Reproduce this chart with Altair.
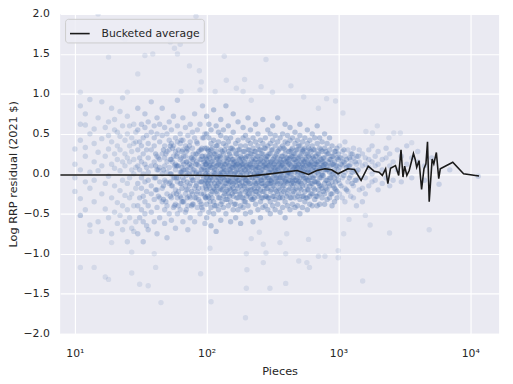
import altair as alt
import pandas as pd

# ---- scatter data: piece counts and their log-RRP residuals, grouped by band ----
band1_pieces = [10, 11, 12, 13, 14, 15, 16, 17, 18, 19, 20, 21, 22, 23, 24, 25, 26, 27, 28, 29]
band1_resid = [
    [0.31, -0.05, 0.12, -0.22],
    [0.62, 0.05, -0.31, 0.42, 0.85, -0.52],
    [0.61, 0.22, -0.1, 0.75, -0.45, 0.33],
    [0.02, 0.5, -0.18, 0.93, -0.64],
    [0.56, -0.35, 0.15, 0.38, -0.08],
    [0.27, -0.6, 0.7, 0.04],
    [0.44, -0.25, 0.1, 0.9, -0.72],
    [-0.12, 0.58, 0.22, -0.44],
    [0.31, -0.03, 0.65, -0.55, 0.48],
    [0.12, -0.3, 0.82, 0.4, -0.75],
    [0.55, -0.15, 0.25, -0.48, 0.07, 0.68],
    [0.52, 0.18, -0.36, -0.62, 0.35],
    [0.04, 0.47, -0.21, 0.78, -0.52, 0.3],
    [-0.4, 0.15, 0.6, -0.08, 0.95, -0.7],
    [0.25, -0.27, 0.42, -0.6, 0.1],
    [0.5, -0.12, 0.2, -0.45, 0.72, -0.85],
    [0.35, -0.05, -0.55, 0.15, 0.6, -0.3],
    [-0.68, 0.28, 0.05, -0.25, 0.45],
    [0.18, -0.4, 0.62, -0.72, 0.38, 0.0],
    [0.08, -0.18, 0.4, -0.6, 0.52],
]

band2_pieces = [30, 31, 32, 33, 34, 35, 36, 38, 40, 42, 44, 46, 48, 50, 52, 54, 56, 58,
                60, 63, 66, 69, 72, 75, 78, 81, 85, 89, 93, 97]
band2_resid = [
    [0.3, -0.12, 0.55, -0.4, 0.1, -0.75, 0.82],
    [0.05, -0.3, 0.4, -0.55, 0.2],
    [-0.18, 0.62, 0.15, -0.45, 0.35, -0.05],
    [0.45, -0.6, 0.0, 0.25, -0.28, -0.85],
    [0.12, -0.1, 0.58, -0.35, 0.75, -0.5],
    [-0.22, 0.3, 0.08, -0.65, 0.48],
    [0.2, -0.4, 0.65, -0.08, 0.38, -0.7, 0.02],
    [0.52, -0.15, 0.1, -0.48, 0.3, -0.25, 0.9],
    [-0.05, 0.35, -0.32, 0.6, 0.15, -0.6, 0.45],
    [0.22, -0.2, 0.5, -0.42, 0.05, 0.7, -0.75],
    [0.4, -0.1, 0.18, -0.55, 0.62, -0.3, 0.08],
    [-0.35, 0.25, 0.0, 0.48, -0.18, 0.82],
    [0.1, -0.45, 0.35, -0.08, 0.58, -0.62, 0.2],
    [0.28, -0.25, 0.5, 0.02, -0.4, 0.15, -0.8],
    [-0.12, 0.42, 0.08, -0.5, 0.3, 0.65],
    [0.18, -0.3, 0.0, 0.55, -0.15, -0.58, 0.38],
    [0.35, -0.05, -0.42, 0.22, 0.72, -0.25],
    [-0.2, 0.12, 0.45, -0.38, 0.28, -0.68, 0.05],
    [0.25, -0.1, 0.6, -0.3, 0.1, -0.5, 0.4, 0.92],
    [0.02, -0.28, 0.38, -0.12, 0.5, -0.45, 0.18],
    [0.15, -0.35, 0.3, -0.05, 0.7, -0.6, 0.42],
    [-0.15, 0.22, 0.05, -0.48, 0.35, 0.58, -0.25],
    [0.3, -0.2, 0.1, -0.4, 0.48, 0.0, -0.7],
    [0.08, -0.12, 0.4, -0.3, 0.2, -0.55, 0.62],
    [-0.25, 0.15, 0.32, -0.08, 0.52, -0.38, 0.02],
    [0.2, -0.3, 0.05, 0.45, -0.18, -0.6, 0.75],
    [0.12, -0.05, 0.38, -0.42, 0.25, -0.22, 0.55],
    [-0.1, 0.3, 0.0, -0.35, 0.18, 0.62, -0.5],
    [0.22, -0.18, 0.45, -0.02, -0.45, 0.1, 0.85],
    [0.05, -0.28, 0.32, 0.15, -0.12, -0.62, 0.5],
]

# extra sets that thicken the cloud between 40 and 100 pieces
band2b_pieces = [43, 49, 55, 57, 61, 64, 67, 70, 74, 79, 84, 87, 92, 95, 99]
band2b_resid = [
    [0.05, -0.28, 0.2],
    [-0.1, 0.25, -0.35],
    [0.15, -0.15, 0.32],
    [-0.05, 0.1, -0.4],
    [0.1, -0.22, 0.3, -0.05, -0.4],
    [-0.12, 0.2, 0.02, -0.3, 0.42],
    [0.22, -0.08, -0.35, 0.12, 0.05],
    [-0.02, 0.28, -0.2, 0.15, -0.45],
    [0.12, -0.15, 0.35, -0.28, 0.0],
    [-0.08, 0.18, -0.38, 0.25, 0.05],
    [0.15, -0.25, 0.02, 0.4, -0.12],
    [-0.18, 0.1, 0.28, -0.32, 0.0],
    [0.05, -0.1, 0.22, -0.42, 0.32],
    [-0.05, 0.15, -0.25, 0.08, 0.45],
    [0.2, -0.18, 0.0, -0.3, 0.12],
]

band3_pieces = [100, 104, 108, 113, 118, 123, 128, 134, 140, 146, 152, 159, 166, 173,
                181, 189, 197, 206, 215, 225, 235, 245, 256, 267, 279, 291]
band3_resid = [
    [0.05, -0.2, 0.32, -0.1, 0.18, -0.38, 0.5, -0.05, 0.12, -0.55, 0.72],
    [-0.15, 0.1, 0.28, -0.3, 0.0, 0.45, -0.08, -0.48, 0.22, 0.62],
    [0.15, -0.05, -0.25, 0.38, 0.08, -0.42, 0.3, -0.12, 0.55, -0.65],
    [0.02, 0.25, -0.18, 0.12, -0.35, 0.42, -0.02, 0.2, -0.5, 0.8],
    [-0.08, 0.18, 0.35, -0.22, 0.05, -0.4, 0.28, 0.1, -0.15, 0.6, -0.72],
    [0.12, -0.12, 0.22, -0.3, 0.4, 0.0, -0.45, 0.15, -0.05, 0.52],
    [-0.02, 0.3, -0.2, 0.1, -0.38, 0.2, 0.48, -0.1, 0.05, -0.58, 0.68],
    [0.08, -0.15, 0.25, -0.05, 0.38, -0.28, 0.15, -0.42, 0.02, 0.55],
    [-0.12, 0.2, 0.05, -0.32, 0.35, -0.02, 0.12, -0.22, 0.45, -0.5, 0.85],
    [0.1, -0.08, 0.28, -0.25, 0.0, 0.4, -0.4, 0.18, -0.12, 0.6],
    [-0.05, 0.15, -0.2, 0.32, 0.05, -0.35, 0.22, -0.1, 0.45, -0.6, 0.02],
    [0.18, -0.12, 0.08, -0.28, 0.3, 0.0, -0.45, 0.12, -0.18, 0.52, 0.75],
    [-0.1, 0.25, 0.02, -0.22, 0.15, -0.38, 0.38, -0.05, 0.1, -0.55],
    [0.05, -0.18, 0.3, -0.08, 0.2, -0.3, 0.0, 0.42, -0.45, 0.12, 0.65],
    [-0.15, 0.1, 0.22, -0.25, 0.05, 0.35, -0.4, -0.02, 0.15, -0.62],
    [0.12, -0.05, -0.3, 0.28, 0.0, -0.15, 0.45, 0.18, -0.42, 0.08, 0.58],
    [-0.08, 0.2, 0.05, -0.22, 0.35, -0.35, 0.1, -0.12, 0.48, -0.5],
    [0.02, -0.25, 0.15, 0.3, -0.1, 0.08, -0.4, 0.22, -0.18, 0.42, 0.7],
    [-0.12, 0.12, -0.3, 0.25, 0.0, -0.2, 0.38, 0.1, -0.48, 0.55],
    [0.08, -0.15, 0.2, -0.05, 0.32, -0.32, 0.02, 0.15, -0.25, 0.45, -0.6],
    [-0.05, 0.18, -0.22, 0.1, 0.28, -0.38, 0.05, -0.12, 0.4, 0.62],
    [0.15, -0.1, 0.0, -0.28, 0.22, 0.35, -0.18, 0.08, -0.45, 0.5, -0.02],
    [-0.08, 0.12, 0.3, -0.2, 0.02, -0.35, 0.18, -0.05, 0.42, -0.55],
    [0.05, -0.22, 0.25, 0.1, -0.12, 0.38, -0.3, 0.0, 0.15, -0.42, 0.68],
    [-0.02, 0.2, -0.15, 0.32, 0.08, -0.28, 0.12, -0.4, 0.45, -0.08],
    [0.1, -0.18, 0.22, -0.05, 0.35, -0.3, 0.02, -0.45, 0.15, 0.55, -0.12],
]

band4_pieces = [304, 317, 331, 346, 361, 377, 394, 411, 429, 448, 468, 489, 510, 533,
                556, 581, 606, 633, 661, 690, 720, 752, 785, 820, 856, 894, 933, 975]
band4_resid = [
    [0.12, -0.08, 0.25, -0.22, 0.05, 0.38, -0.35, 0.15, -0.12, 0.5, -0.5],
    [-0.05, 0.18, 0.02, -0.28, 0.3, -0.15, 0.1, 0.42, -0.4, 0.6],
    [0.08, -0.2, 0.22, 0.0, -0.1, 0.35, -0.32, 0.15, -0.45, 0.48, 0.05],
    [-0.12, 0.1, 0.28, -0.25, 0.05, -0.38, 0.2, 0.4, -0.05, 0.7],
    [0.15, -0.05, -0.2, 0.32, 0.08, -0.3, 0.18, -0.12, 0.45, -0.48, 0.0],
    [0.02, 0.22, -0.15, 0.1, -0.3, 0.35, -0.05, 0.5, -0.42, 0.12],
    [-0.08, 0.15, 0.3, -0.2, 0.05, -0.35, 0.25, -0.1, 0.4, 0.62, -0.55],
    [0.1, -0.12, 0.2, 0.02, -0.25, 0.38, -0.4, 0.15, -0.02, 0.48],
    [0.05, -0.18, 0.28, -0.08, 0.12, -0.3, 0.42, 0.2, -0.45, 0.0, 0.58],
    [-0.1, 0.15, 0.05, -0.25, 0.32, -0.05, 0.22, -0.38, 0.45, -0.15],
    [0.18, -0.08, 0.25, -0.2, 0.02, 0.38, -0.3, 0.1, -0.42, 0.52, 0.08],
    [0.08, -0.12, 0.3, 0.0, -0.28, 0.2, 0.42, -0.05, -0.4, 0.15],
    [-0.05, 0.22, 0.1, -0.18, 0.35, -0.32, 0.05, 0.48, -0.1, 0.62, -0.5],
    [0.12, -0.15, 0.28, -0.02, 0.18, -0.28, 0.4, -0.42, 0.05, 0.3],
    [0.02, 0.2, -0.1, 0.32, -0.22, 0.1, -0.35, 0.45, 0.15, -0.05],
    [-0.08, 0.15, 0.25, -0.2, 0.05, -0.3, 0.38, 0.02, -0.45, 0.55],
    [0.1, -0.05, 0.3, -0.15, 0.2, -0.28, 0.0, 0.42, -0.38, 0.12],
    [0.05, 0.22, -0.12, 0.15, -0.25, 0.35, -0.05, 0.5, -0.4],
    [-0.02, 0.18, 0.08, -0.2, 0.3, -0.32, 0.12, 0.45, -0.1],
    [0.12, -0.1, 0.25, 0.02, -0.28, 0.38, -0.4, 0.15, 0.6],
    [0.08, -0.15, 0.2, -0.05, 0.32, -0.25, 0.05, 0.45, -0.38],
    [0.15, -0.02, 0.28, -0.18, 0.1, -0.3, 0.4, 0.0],
    [0.05, 0.2, -0.12, 0.32, -0.25, 0.12, -0.38, 0.5],
    [0.1, -0.08, 0.25, -0.2, 0.05, 0.38, -0.32],
    [0.02, 0.18, -0.15, 0.3, -0.05, -0.3, 0.45],
    [0.12, -0.1, 0.22, 0.0, -0.25, 0.35, -0.4],
    [0.05, 0.15, -0.18, 0.28, -0.05, -0.35],
    [-0.02, 0.2, 0.1, -0.22, 0.32, -0.3],
]

# the tightly packed centre of the cloud
core_pieces = [41, 47, 53, 59, 65, 71, 77, 83, 91, 98, 102, 106, 110, 115, 120, 126, 131,
               137, 143, 149, 156, 162, 169, 177, 185, 193, 201, 210, 220, 230, 240, 250,
               261, 273, 285, 297, 310, 324, 338, 353, 369, 385, 402, 420, 438, 458, 478,
               499, 521, 544, 568, 593, 619, 647, 675, 705, 736, 768, 802, 838, 875, 913,
               954, 996, 1045, 1100, 1150, 1210, 1270, 1340, 1410]
core_resid = [
    [0.1, -0.2, 0.25, -0.05],
    [-0.15, 0.05, 0.3, -0.32],
    [0.18, -0.1, 0.0, -0.28, 0.35],
    [-0.05, 0.22, -0.25, 0.1],
    [0.08, -0.18, 0.28, -0.35, 0.02],
    [-0.1, 0.15, -0.3, 0.32, 0.05],
    [0.2, -0.05, 0.1, -0.22, -0.4],
    [-0.15, 0.25, 0.0, -0.3, 0.12],
    [0.05, -0.25, 0.18, -0.1, 0.3, -0.38],
    [-0.08, 0.12, -0.3, 0.22, 0.0, -0.15],
    [0.15, -0.12, 0.05, -0.28, 0.3, -0.02],
    [-0.05, 0.2, -0.18, 0.1, -0.35, 0.25],
    [0.08, -0.22, 0.15, -0.08, 0.32, -0.3],
    [-0.12, 0.05, 0.25, -0.2, 0.0, -0.4],
    [0.2, -0.05, -0.25, 0.1, -0.15, 0.35],
    [0.0, 0.15, -0.3, 0.22, -0.1, -0.18],
    [-0.2, 0.1, 0.28, -0.05, 0.02, -0.35],
    [0.12, -0.15, 0.05, -0.25, 0.3, -0.08],
    [-0.08, 0.2, -0.2, 0.0, 0.15, -0.32],
    [0.05, -0.1, 0.25, -0.28, 0.1, -0.18],
    [-0.15, 0.08, -0.05, 0.32, -0.25, 0.18],
    [0.1, -0.22, 0.15, -0.1, 0.0, -0.38],
    [-0.05, 0.25, -0.15, 0.05, -0.3, 0.12],
    [0.18, -0.08, -0.25, 0.1, -0.12, 0.3],
    [-0.1, 0.02, 0.2, -0.3, 0.12, -0.2],
    [0.05, -0.15, 0.28, -0.05, -0.35, 0.15],
    [-0.2, 0.1, -0.08, 0.22, 0.0, -0.28],
    [0.12, -0.12, 0.05, -0.25, 0.3, -0.05],
    [-0.05, 0.18, -0.2, 0.08, -0.32, 0.25],
    [0.0, -0.18, 0.15, -0.1, 0.28, -0.3],
    [-0.12, 0.1, 0.22, -0.22, 0.05, -0.02],
    [0.08, -0.25, 0.0, 0.3, -0.15, 0.15],
    [-0.08, 0.2, -0.12, 0.05, -0.3, 0.25],
    [0.15, -0.05, -0.22, 0.1, 0.32, -0.15],
    [-0.02, 0.18, -0.18, 0.08, -0.28, 0.22],
    [0.1, -0.12, 0.25, -0.05, 0.02, -0.3],
    [-0.1, 0.15, 0.05, -0.2, 0.3, -0.08],
    [0.2, -0.02, -0.15, 0.12, -0.28, 0.08],
    [0.02, 0.25, -0.1, 0.15, -0.22, -0.05],
    [-0.05, 0.12, 0.3, -0.18, 0.05, -0.3],
    [0.15, -0.1, 0.22, 0.0, -0.25, 0.1],
    [0.08, -0.15, 0.18, -0.05, 0.32, -0.22],
    [-0.02, 0.2, 0.05, -0.28, 0.15, -0.1],
    [0.12, -0.08, 0.28, -0.2, 0.02, 0.18],
    [0.0, 0.22, -0.12, 0.1, -0.3, 0.3],
    [0.18, -0.05, 0.08, -0.22, 0.25, -0.12],
    [0.05, 0.15, -0.18, 0.3, -0.08, 0.1],
    [-0.1, 0.2, 0.02, -0.25, 0.12, 0.35],
    [0.15, -0.12, 0.25, 0.0, -0.2, 0.08],
    [0.08, 0.3, -0.05, 0.15, -0.28, 0.02],
    [-0.05, 0.18, 0.1, -0.15, 0.25, -0.3],
    [0.12, -0.08, 0.22, -0.2, 0.05, 0.32],
    [0.02, 0.15, -0.12, 0.28, -0.25, 0.1],
    [0.2, -0.05, 0.08, -0.18, 0.3],
    [0.05, 0.22, -0.1, 0.12, -0.28],
    [0.15, -0.12, 0.25, 0.0, -0.2],
    [0.08, 0.18, -0.15, 0.3, -0.05],
    [-0.02, 0.2, 0.1, -0.22, 0.15],
    [0.12, -0.08, 0.28, -0.18, 0.05],
    [0.05, 0.15, -0.12, 0.25],
    [0.18, -0.05, 0.1, -0.25],
    [0.0, 0.22, -0.15, 0.12],
    [0.1, -0.1, 0.28, -0.2],
    [0.05, 0.18, -0.08, 0.25],
    [0.12, -0.15, 0.2],
    [-0.02, 0.15, 0.3],
    [0.08, -0.2, 0.18],
    [0.2, -0.05, 0.1],
    [0.02, 0.25, -0.12],
    [0.15, -0.08],
    [0.05, 0.22],
]

band5_pieces = [1020, 1070, 1120, 1180, 1240, 1300, 1370, 1440, 1520, 1600, 1700, 1800,
                1900, 2000, 2150, 2300, 2450, 2600, 2800, 3000, 3300, 3600, 4000, 4500,
                5100, 5800, 7000, 11500]
band5_resid = [
    [0.08, -0.12, 0.2, -0.25, 0.35, 0.0],
    [0.15, -0.05, 0.28, -0.3, 0.1],
    [0.02, 0.22, -0.18, 0.12, -0.35, 0.4],
    [0.1, -0.1, 0.3, -0.22, 0.05],
    [0.18, -0.02, 0.25, -0.28, 0.12],
    [0.05, 0.2, -0.15, 0.32, -0.3],
    [0.12, -0.08, 0.22, -0.4, 0.02],
    [-0.05, 0.15, 0.3, -0.2],
    [0.1, -0.18, 0.25, -0.35],
    [0.2, -0.05, 0.12, -0.25],
    [0.08, 0.3, -0.15, 0.18],
    [0.15, -0.1, 0.35, 0.0],
    [-0.08, 0.22, 0.1],
    [0.12, -0.2, 0.28],
    [0.05, 0.18, -0.12],
    [0.2, -0.05, 0.32],
    [0.1, -0.15, 0.25],
    [0.15, -0.08],
    [0.05, 0.3],
    [0.22, -0.1],
    [0.12, 0.35],
    [-0.05, 0.2],
    [0.15, 0.28],
    [0.1, -0.08],
    [0.2],
    [-0.13],
    [0.05],
    [-0.03],
]

# isolated far-from-centre sets
outlier_pieces = [15, 83, 53, 63, 57, 60, 39, 34, 18, 24, 136, 74, 88, 30, 91, 141, 194,
                  89, 64, 116, 168, 189, 25, 11, 282, 259, 436, 316, 218, 545, 813, 951,
                  1082, 705, 1972, 1617, 1812, 2415, 2630, 2950, 3600,
                  11, 14, 17, 18, 27, 31, 36, 41, 45, 90, 108, 106, 202, 200, 197, 200,
                  13, 11, 40, 27, 19, 302, 398, 1527, 995, 995, 500, 576, 603, 705, 790,
                  398, 282, 269, 593, 360, 405, 1097, 1203, 1740, 2443, 4885, 1600, 218,
                  269, 251]
outlier_resid = [2.0, 1.97, 1.65, 1.62, 1.57, 1.5, 1.5, 1.48, 1.46, 1.68, 1.47, 1.35, 1.29,
                 1.25, 1.15, 1.17, 1.18, 1.05, 1.03, 1.03, 1.07, 1.03, 1.02, 1.02, 1.43,
                 1.09, 1.1, 1.02, 0.92, 0.96, 0.94, 0.91, 0.76, 0.82, 0.6, 0.53, 0.51,
                 0.45, 0.51, 0.51, 0.39,
                 -1.17, -1.17, -1.29, -1.32, -1.24, -1.38, -1.4, -1.17, -1.61, -1.25,
                 -1.6, -0.93, -1.2, -1.43, -1.8, -1.0, -0.72, -0.52, -1.0, -0.98, -0.86,
                 -1.43, -1.37, -1.34, -0.96, -1.05, -1.09, -1.11, -1.17, -1.03, -1.03,
                 -1.0, -0.99, -1.11, -0.82, -0.86, -0.75, -0.75, -0.57, -0.64, -0.74,
                 -0.7, -0.52, -0.81, -0.88, -0.73]

# bucketed average line
line_pieces = [7.75, 21, 85, 142, 200, 282, 486, 593, 685, 791, 887, 994, 1180, 1324,
               1486, 1683, 1866, 2033, 2153, 2281, 2372, 2486, 2710, 2866, 2985, 3090,
               3180, 3306, 3445, 3710, 3818, 3926, 4091, 4277, 4458, 4615, 4743, 4886,
               5143, 5294, 5537, 5770, 5930, 7375, 8910, 11670]
line_resid = [-0.014, -0.015, -0.017, -0.023, -0.032, -0.007, 0.042, -0.007, 0.042,
              0.063, 0.05, 0.001, 0.063, 0.054, -0.081, 0.095, 0.033, 0.021, -0.02,
              0.063, -0.122, 0.07, 0.103, -0.02, 0.30, -0.04, 0.095, -0.02, 0.042,
              0.255, 0.186, 0.082, 0.165, -0.196, 0.063, 0.124, 0.40, -0.348, 0.186,
              0.124, 0.267, -0.06, 0.063, 0.144, 0.001, -0.028]

x_ticks = [10, 100, 1000, 10000]
y_ticks = [-2.0, -1.5, -1.0, -0.5, 0.0, 0.5, 1.0, 1.5, 2.0]

# ---- build tables ----
rows = []
for bp, br, a in [(band1_pieces, band1_resid, 0.2), (band2_pieces, band2_resid, 0.27),
                  (band2b_pieces, band2b_resid, 0.3),
                  (band3_pieces, band3_resid, 0.35), (band4_pieces, band4_resid, 0.35),
                  (core_pieces, core_resid, 0.35), (band5_pieces, band5_resid, 0.22)]:
    for p, rs in zip(bp, br):
        for r in rs:
            rows.append({"pieces": p, "resid": r, "alpha": a})
for p, r in zip(outlier_pieces, outlier_resid):
    rows.append({"pieces": p, "resid": r, "alpha": 0.14})
pts = pd.DataFrame(rows)

line_df = pd.DataFrame({"pieces": line_pieces, "resid": line_resid,
                        "series": ["Bucketed average"] * len(line_pieces)})

x_scale = alt.Scale(type="log", domain=[7.73, 16570], nice=False)
y_scale = alt.Scale(domain=[-2, 2], nice=False)

x_axis = alt.Axis(values=x_ticks, title="Pieces", grid=True,
                  labelExpr="datum.value == 10 ? '10¹' : datum.value == 100 ? '10²' : datum.value == 1000 ? '10³' : '10⁴'",
                  labelPadding=14, titlePadding=7)
y_axis = alt.Axis(values=y_ticks, format=".1f", title="Log RRP residual (2021 $)",
                  grid=True, labelPadding=11, titlePadding=5)

points = alt.Chart(pts).mark_circle(size=30, color="#4C72B0", clip=True).encode(
    x=alt.X("pieces:Q", scale=x_scale, axis=x_axis),
    y=alt.Y("resid:Q", scale=y_scale, axis=y_axis),
    opacity=alt.Opacity("alpha:Q", scale=None, legend=None),
)

line = alt.Chart(line_df).mark_line(strokeWidth=1.6, clip=True).encode(
    x=alt.X("pieces:Q", scale=x_scale),
    y=alt.Y("resid:Q", scale=y_scale),
    color=alt.Color("series:N", scale=alt.Scale(range=["#1a1a1a"]),
                    legend=alt.Legend(title=None, orient="top-left", offset=5,
                                      symbolType="stroke", symbolSize=400,
                                      symbolStrokeWidth=1.6, labelFontSize=11,
                                      labelFont="DejaVu Sans", labelColor="#262626",
                                      fillColor="rgba(236,236,244,0.85)",
                                      strokeColor="#cccccc", cornerRadius=3,
                                      padding=4, labelOffset=11)),
)

chart = alt.layer(points, line).properties(
    width=446, height=325,
    autosize=alt.AutoSizeParams(type="none"),
    padding={"left": 53, "top": 3, "right": 6, "bottom": 45},
).configure_view(fill="#EAEAF2", stroke=None).configure_axis(
    gridColor="white", gridWidth=1.2, domain=False, ticks=False,
    labelColor="#262626", titleColor="#262626", labelFont="DejaVu Sans",
    titleFont="DejaVu Sans", labelFontSize=11, titleFontSize=11.5,
    titleFontWeight="normal",
)

chart.save("out.html", embed_options={"renderer": "svg", "actions": False})
